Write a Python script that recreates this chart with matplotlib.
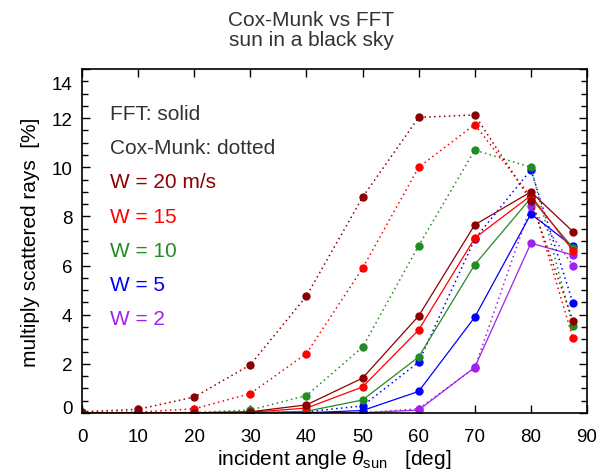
import matplotlib
matplotlib.use("Agg")
import matplotlib.pyplot as plt
from matplotlib.ticker import MultipleLocator, FixedLocator
from matplotlib.transforms import ScaledTranslation

plt.rcParams["font.family"] = ["Liberation Sans", "DejaVu Sans"]
plt.rcParams["mathtext.fontset"] = "custom"
plt.rcParams["mathtext.rm"] = "Liberation Sans"
plt.rcParams["mathtext.it"] = "Liberation Sans:italic"

# incident sun angle [deg]
theta = [0, 10, 20, 30, 40, 50, 60, 70, 80, 87.5]

# wind speeds and colours
winds = [2, 5, 10, 15, 20]
colors = ["#A020F0", "#0000FF", "#228B22", "#FF0000", "#8B0000"]

# multiply scattered rays [%], FFT surfaces
fft_w2 = [0, 0, 0, 0, 0, 0.01, 0.12, 1.86, 6.91, 6.43]
fft_w5 = [0, 0, 0, 0, 0.01, 0.10, 0.88, 3.90, 8.10, 6.78]
fft_w10 = [0, 0, 0, 0.01, 0.07, 0.53, 2.28, 6.04, 8.75, 6.72]
fft_w15 = [0, 0, 0.01, 0.03, 0.20, 1.06, 3.38, 7.12, 8.85, 6.60]
fft_w20 = [0, 0, 0.01, 0.05, 0.33, 1.42, 3.95, 7.66, 9.00, 7.38]

# multiply scattered rays [%], Cox-Munk slope statistics
cm_w2 = [0, 0, 0, 0, 0, 0.01, 0.17, 1.84, 8.43, 6.00]
cm_w5 = [0, 0, 0, 0.01, 0.05, 0.29, 2.07, 7.08, 9.90, 4.47]
cm_w10 = [0, 0.01, 0.02, 0.12, 0.71, 2.68, 6.81, 10.70, 10.00, 3.53]
cm_w15 = [0.02, 0.04, 0.17, 0.79, 2.42, 5.89, 10.00, 11.74, 8.80, 3.04]
cm_w20 = [0.05, 0.15, 0.65, 1.96, 4.76, 8.78, 12.03, 12.13, 8.64, 3.76]

fft = [fft_w2, fft_w5, fft_w10, fft_w15, fft_w20]
cm = [cm_w2, cm_w5, cm_w10, cm_w15, cm_w20]

legend_lines = ["FFT: solid", "Cox-Munk: dotted",
                "W = 20 m/s", "W = 15", "W = 10", "W = 5", "W = 2"]
legend_colors = ["#333333", "#333333"] + colors[::-1]

yticks = [0, 2, 4, 6, 8, 10, 12, 14]
xticks = [0, 10, 20, 30, 40, 50, 60, 70, 80, 90]

W, H = 609, 477
fig = plt.figure(figsize=(W / 100, H / 100), dpi=100)
ax = fig.add_axes([82 / W, 1 - 414 / H, (587 - 82) / W, (414 - 70) / H])

for f, c, col in zip(fft, cm, colors):
    ax.plot(theta, c, linestyle=(0, (1, 2.2)), color=col, lw=1.1,
            marker="o", ms=5, mec=col, mfc=col)
    ax.plot(theta, f, linestyle="-", color=col, lw=0.9,
            marker="o", ms=5, mec=col, mfc=col)

ax.set_xlim(0, 90)
ax.set_ylim(0, 14)
ax.xaxis.set_major_locator(FixedLocator(xticks))
ax.yaxis.set_major_locator(FixedLocator(yticks))
ax.yaxis.set_minor_locator(MultipleLocator(0.5))
ax.tick_params(which="both", direction="in", top=True, right=True,
               labelsize=13.5, color="black", width=1.0)
ax.tick_params(which="major", length=6)
ax.tick_params(which="minor", length=4)
ax.tick_params(axis="x", pad=10.5)
ax.tick_params(axis="y", pad=7)
for s in ax.spines.values():
    s.set_linewidth(1.2)

# keep the end labels of the y axis inside the frame
for lab, val in zip(ax.get_yticklabels(), yticks):
    dy = 0
    if val == 14:
        dy = -13
    elif val == 0:
        dy = 6
    lab.set_transform(lab.get_transform() +
                      ScaledTranslation(0, dy / 100, fig.dpi_scale_trans))

ax.set_ylabel("multiply scattered rays  [%]", fontsize=15, labelpad=8)
ax.set_xlabel(r"incident angle $\theta_{\rm sun}$   [deg]", fontsize=15)
ax.xaxis.label.set_verticalalignment("baseline")
ax.xaxis.set_label_coords(0.5, (414 - 465) / (414 - 70))

fig.text(311 / W, 1 - 20 / H, "Cox-Munk vs FFT", ha="center", va="center",
         fontsize=15, color="#333333")
fig.text(311 / W, 1 - 41 / H, "sun in a black sky", ha="center",
         va="center", fontsize=15, color="#333333")

for i, (txt, col) in enumerate(zip(legend_lines, legend_colors)):
    ypx = 120 + 34.2 * i
    fig.text(110 / W, 1 - ypx / H, txt, ha="left", va="baseline",
             fontsize=15, color=col)

fig.savefig("out.png", dpi=100)
